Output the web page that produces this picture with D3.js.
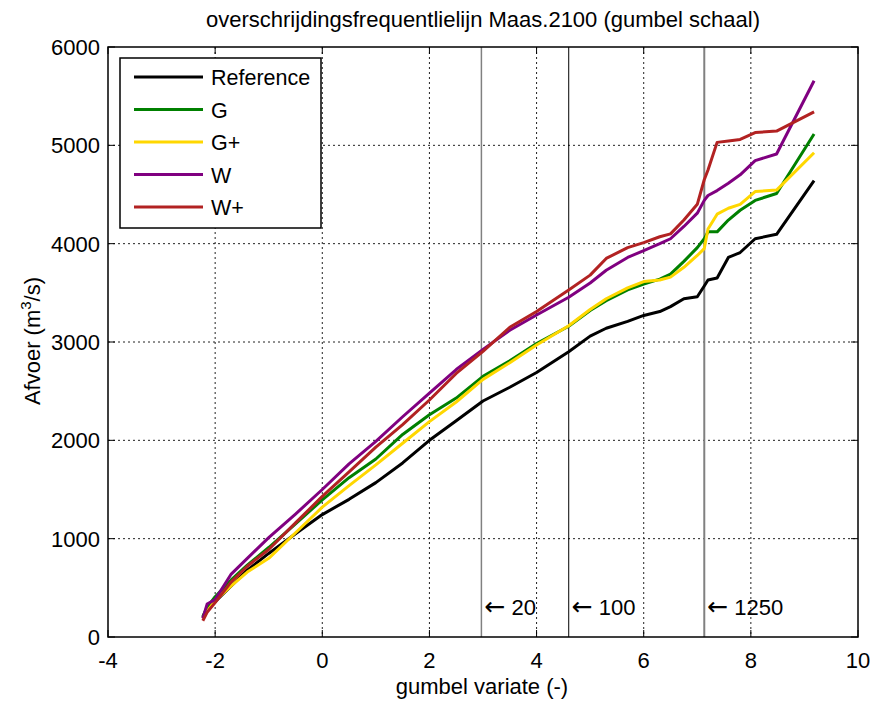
<!DOCTYPE html>
<html><head><meta charset="utf-8">
<script src="https://cdn.jsdelivr.net/npm/d3@7"></script>
<style>body{margin:0;background:#fff}svg{display:block;font-family:Arial,"Liberation Sans",sans-serif}</style>
</head><body>
<svg id="c" width="873" height="702"></svg>
<script>
const gumbel = [-2.23,-2.15,-2.0,-1.7,-1.4,-1.0,-0.5,0,0.5,1.0,1.5,2.0,2.5,3.0,3.5,4.0,4.6,5.0,5.3,5.7,6.0,6.3,6.5,6.75,7.0,7.13,7.2,7.37,7.58,7.8,8.08,8.48,9.18];
const reference = [200,290,360,520,680,850,1050,1245,1400,1570,1770,2000,2200,2400,2540,2690,2900,3060,3140,3210,3270,3310,3360,3440,3460,3570,3630,3650,3860,3910,4050,4095,4640];
const seriesG = [210,300,410,580,730,910,1150,1395,1620,1810,2060,2260,2430,2650,2810,2985,3160,3320,3420,3530,3590,3640,3690,3820,3960,4050,4120,4120,4240,4340,4440,4510,5115];
const seriesGplus = [190,260,370,520,660,800,1060,1320,1540,1750,1970,2190,2390,2620,2790,2970,3165,3330,3440,3550,3615,3630,3660,3760,3880,3950,4150,4300,4360,4400,4530,4545,4925];
const seriesW = [190,335,380,640,800,1010,1250,1500,1760,1990,2240,2480,2720,2925,3120,3275,3455,3600,3730,3860,3930,4000,4050,4175,4310,4440,4490,4540,4614,4700,4845,4912,5657];
const seriesWplus = [165,250,350,560,720,890,1160,1430,1680,1930,2160,2410,2680,2905,3150,3310,3530,3680,3850,3960,4010,4070,4100,4240,4400,4650,4750,5030,5045,5060,5130,5145,5340];
const seriesNames = ["Reference","G","G+","W","W+"];
const seriesColors = ["#000000","#008000","#FFD700","#800080","#B22222"];
const returnPeriods = [20,100,1250];
const xTicks = [-4,-2,0,2,4,6,8,10];
const yTicks = [0,1000,2000,3000,4000,5000,6000];

const allSeries = [reference, seriesG, seriesGplus, seriesW, seriesWplus];
const svg = d3.select("#c");
const L=108, R=858, T=47, B=637;
const x = d3.scaleLinear().domain([-4,10]).range([L,R]);
const y = d3.scaleLinear().domain([0,6000]).range([B,T]);

// grid
const grid = svg.append("g").attr("stroke","#222").attr("stroke-width",1).attr("stroke-dasharray","2,3");
xTicks.slice(1,-1).forEach(t=>grid.append("line").attr("x1",x(t)).attr("x2",x(t)).attr("y1",T).attr("y2",B));
yTicks.slice(1,-1).forEach(t=>grid.append("line").attr("y1",y(t)).attr("y2",y(t)).attr("x1",L).attr("x2",R));

// return period lines
const rpColors = ["#808080","#000000","#808080"];
const rpWidths = [1.5,1,2];
returnPeriods.forEach((T_,i)=>{
  const g = -Math.log(-Math.log(1-1/T_));
  svg.append("line").attr("x1",x(g)).attr("x2",x(g)).attr("y1",T).attr("y2",B)
     .attr("stroke",rpColors[i]).attr("stroke-width",rpWidths[i]);
  const t = svg.append("text").attr("x",x(g)+3).attr("y",615).attr("font-size",22);
  t.append("tspan").attr("font-family","DejaVu Sans").attr("font-size",25).text("\u2190");
  t.append("tspan").text(" "+T_);
});

// series
const line = d3.line().x((d,i)=>x(gumbel[i])).y(d=>y(d));
allSeries.forEach((s,i)=>{
  svg.append("path").datum(s).attr("d",line).attr("fill","none")
    .attr("stroke",seriesColors[i]).attr("stroke-width",3).attr("stroke-linejoin","round");
});

// axes (box with inward ticks)
const ax = svg.append("g");
ax.append("rect").attr("x",L).attr("y",T).attr("width",R-L).attr("height",B-T).attr("fill","none").attr("stroke","#000").attr("stroke-width",1.5);
const tl=7;
xTicks.forEach(t=>{
  ax.append("line").attr("x1",x(t)).attr("x2",x(t)).attr("y1",B).attr("y2",B-tl).attr("stroke","#000");
  ax.append("line").attr("x1",x(t)).attr("x2",x(t)).attr("y1",T).attr("y2",T+tl).attr("stroke","#000");
  ax.append("text").attr("x",x(t)).attr("y",668).attr("text-anchor","middle").attr("font-size",22).text(t);
});
yTicks.forEach(t=>{
  ax.append("line").attr("y1",y(t)).attr("y2",y(t)).attr("x1",L).attr("x2",L+tl).attr("stroke","#000");
  ax.append("line").attr("y1",y(t)).attr("y2",y(t)).attr("x1",R).attr("x2",R-tl).attr("stroke","#000");
  ax.append("text").attr("x",100).attr("y",y(t)+8).attr("text-anchor","end").attr("font-size",22).text(t);
});

// title & labels
svg.append("text").attr("x",483).attr("y",27).attr("text-anchor","middle").attr("font-size",22)
  .text("overschrijdingsfrequentlielijn Maas.2100 (gumbel schaal)");
svg.append("text").attr("x",482).attr("y",694).attr("text-anchor","middle").attr("font-size",22).text("gumbel variate (-)");
const yl = svg.append("text").attr("transform","translate(40,341) rotate(-90)").attr("text-anchor","middle").attr("font-size",22);
yl.append("tspan").text("Afvoer (m");
yl.append("tspan").attr("font-size",15).attr("dy",-9).text("3");
yl.append("tspan").attr("dy",9).text("/s)");

// legend
const lg = svg.append("g");
lg.append("rect").attr("x",120).attr("y",58).attr("width",201).attr("height",170).attr("fill","#fff").attr("stroke","#000").attr("stroke-width",1.5);
seriesNames.forEach((n,i)=>{
  const yy = 77 + i*32.5;
  lg.append("line").attr("x1",134).attr("x2",203).attr("y1",yy).attr("y2",yy).attr("stroke",seriesColors[i]).attr("stroke-width",3);
  lg.append("text").attr("x",211).attr("y",yy+8).attr("font-size",21.5).text(n);
});
</script>
</body></html>
